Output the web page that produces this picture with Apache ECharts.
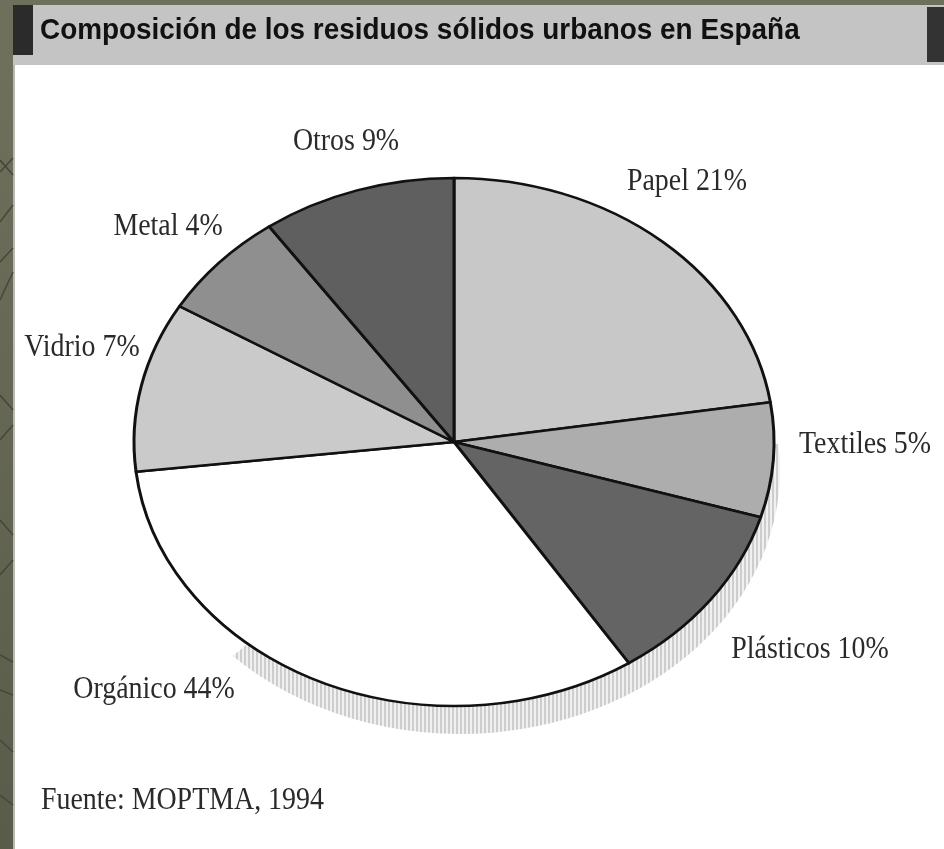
<!DOCTYPE html>
<html>
<head>
<meta charset="utf-8">
<style>
  html, body { margin: 0; padding: 0; background: #6e705c; }
  #chart { width: 944px; height: 849px; }
</style>
</head>
<body>
<div id="chart"></div>
<script src="https://cdn.jsdelivr.net/npm/echarts@6/dist/echarts.min.js"></script>
<script>
// clockwise from 12 o'clock
const categories = ['Papel', 'Textiles', 'Plásticos', 'Orgánico', 'Vidrio', 'Metal', 'Otros']
// percentages printed on the labels
const printedValues = [21, 5, 10, 44, 7, 4, 9]
// share of the ellipse each slice really takes in the picture (differs from the printed one)
const drawnShares = [22.6, 7, 11.2, 32.4, 10.4, 6.6, 9.8]
const sliceColors = ['#c8c8c8', '#adadad', '#646464', '#ffffff', '#cacaca', '#8f8f8f', '#5f5f5f']
const labelAt = [[687, 182], [865, 445], [810, 650], [154, 690], [82, 348], [168, 227], [346, 142]]

const titleText = 'Composición de los residuos sólidos urbanos en España'
const sourceText = 'Fuente: MOPTMA, 1994'

const pie = { cx: 454, cy: 442, rx: 320, ry: 264 }
const serif = '"Liberation Serif", serif'

// vertical hatch for the drop shadow
const hatch = document.createElement('canvas')
hatch.width = 4
hatch.height = 4
const hctx = hatch.getContext('2d')
hctx.fillStyle = '#f0f0f0'
hctx.fillRect(0, 0, 4, 4)
hctx.fillStyle = '#cdcdcd'
hctx.fillRect(0, 0, 2, 4)

const total = drawnShares.reduce((a, b) => a + b, 0)
const cumulative = []
drawnShares.reduce((sum, v, i) => {
  cumulative[i] = sum
  return sum + v
}, 0)

function renderSlice(params, api) {
  const i = api.value(0)
  const start = -Math.PI / 2 + (cumulative[i] / total) * Math.PI * 2
  const end = start + (api.value(1) / total) * Math.PI * 2
  return {
    type: 'group',
    children: [{
      type: 'sector',
      x: pie.cx,
      y: pie.cy,
      scaleY: pie.ry / pie.rx,
      shape: { cx: 0, cy: 0, r0: 0, r: pie.rx, startAngle: start, endAngle: end, clockwise: true },
      style: { fill: sliceColors[i], stroke: '#111', lineWidth: 3, strokeNoScale: true, lineJoin: 'round' }
    }, {
      type: 'text',
      x: labelAt[i][0],
      y: labelAt[i][1],
      scaleX: 0.9,
      style: {
        text: categories[i] + ' ' + printedValues[i] + '%',
        font: '31px ' + serif,
        fill: '#2a2a2a',
        align: 'center',
        verticalAlign: 'middle'
      }
    }]
  }
}

function renderShadow() {
  return {
    type: 'sector',
    x: pie.cx + 6,
    y: pie.cy + 28,
    scaleY: pie.ry / pie.rx,
    shape: { cx: 0, cy: 0, r0: 0, r: pie.rx, startAngle: -0.1, endAngle: 2.36, clockwise: true },
    style: { fill: { image: hatch, repeat: 'repeat' } }
  }
}

// the rough pattern on the page background, left of the panel
const stripeLines = [
  [0, 172, 13, 158], [0, 160, 13, 175], [0, 222, 13, 205], [0, 262, 13, 248], [0, 300, 13, 272],
  [0, 395, 13, 410], [0, 440, 13, 425], [0, 520, 13, 535], [0, 575, 13, 560], [0, 655, 13, 662],
  [0, 690, 13, 695], [0, 740, 13, 752], [0, 795, 13, 805]
].map(p => ({
  type: 'line',
  shape: { x1: p[0], y1: p[1], x2: p[2], y2: p[3] },
  style: { stroke: '#45473a', lineWidth: 1.5 }
}))

const chart = echarts.init(document.getElementById('chart'), null, { renderer: 'canvas' })
chart.setOption({
  animation: false,
  backgroundColor: '#6e705c',
  graphic: [
    {
      type: 'rect',
      shape: { x: 0, y: 60, width: 13, height: 789 },
      style: {
        fill: new echarts.graphic.LinearGradient(0, 0, 0, 1, [
          { offset: 0, color: '#6e705c' },
          { offset: 1, color: '#5a5c4b' }
        ])
      },
      z: 0
    },
    { type: 'rect', shape: { x: 13, y: 65, width: 931, height: 784 }, style: { fill: '#ffffff' }, z: 0 },
    { type: 'rect', shape: { x: 13, y: 65, width: 2, height: 784 }, style: { fill: '#b9b9b4' }, z: 0 },
    { type: 'rect', shape: { x: 13, y: 5, width: 931, height: 60 }, style: { fill: '#c4c4c4' }, z: 0 },
    { type: 'rect', shape: { x: 13, y: 5, width: 20, height: 50 }, style: { fill: '#2b2b2b' }, z: 0 },
    { type: 'rect', shape: { x: 927, y: 7, width: 17, height: 55 }, style: { fill: '#333333' }, z: 0 },
    {
      type: 'text', x: 40, y: 31, z: 5, scaleX: 0.93,
      style: {
        text: titleText,
        font: 'bold 30px "Liberation Sans", Arial, sans-serif',
        fill: '#111',
        verticalAlign: 'middle'
      }
    },
    {
      type: 'text', x: 41, y: 801, z: 5, scaleX: 0.9,
      style: {
        text: sourceText,
        font: '31px ' + serif,
        fill: '#2a2a2a',
        verticalAlign: 'middle'
      }
    }
  ].concat(stripeLines),
  series: [{
    type: 'custom',
    coordinateSystem: 'none',
    silent: true,
    z: 1,
    data: [[0]],
    renderItem: renderShadow
  }, {
    type: 'custom',
    coordinateSystem: 'none',
    silent: true,
    z: 2,
    data: drawnShares.map((v, i) => [i, v]),
    renderItem: renderSlice
  }]
})
</script>
</body>
</html>
